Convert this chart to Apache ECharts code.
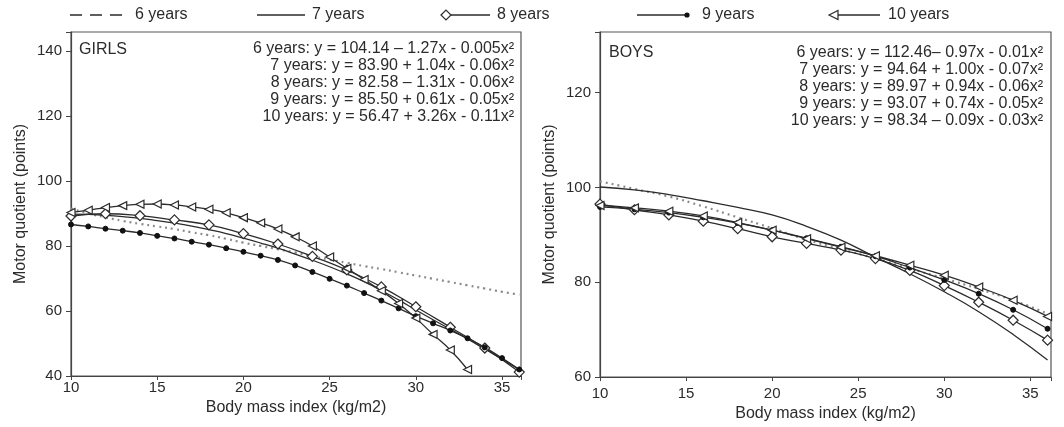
<!DOCTYPE html>
<html>
<head>
<meta charset="utf-8">
<script src="https://cdn.jsdelivr.net/npm/echarts@6/dist/echarts.min.js"></script>
<style>
html,body{margin:0;padding:0;background:#fff;}
#chart{width:1064px;height:427px;}
</style>
</head>
<body>
<div id="chart"></div>
<script>
// body mass index positions
var girlsBmi = [10,11,12,13,14,15,16,17,18,19,20,21,22,23,24,25,26,27,28,29,30,31,32,33,34,35,36];
var girlsBmi10 = [10,11,12,13,14,15,16,17,18,19,20,21,22,23,24,25,26,27,28,29,30,31,32,33];
var stepBmi = [10,12,14,16,18,20,22,24,26,28,30,32,34,36];

// GIRLS, motor quotient
var girls6 = [91.5,90.0,88.8,87.7,86.8,86.0,85.2,84.2,83.3,82.2,81.0,80.0,79.0,78.0,76.8,75.8,74.8,73.8,72.9,71.9,70.9,69.9,68.9,67.9,66.9,65.9,65.0];
var girls7 = [89.8,89.7,89.4,89.0,88.5,87.8,87.0,86.1,85.0,83.8,82.4,80.9,79.3,77.5,75.6,73.6,71.4,69.0,66.3,63.4,60.3,57.3,54.4,51.4,48.3,45.2,42.0];
var girls8 = [89.2,89.9,89.3,88.0,86.5,83.8,80.6,76.8,72.6,67.4,61.3,55.0,48.6,41.2];
var girls9 = [86.6,86.0,85.3,84.7,84.0,83.1,82.3,81.3,80.4,79.3,78.2,77.0,75.7,74.0,72.0,69.9,67.8,65.5,63.2,60.8,58.4,56.2,54.0,51.6,48.8,45.5,42.0];
var girls10 = [90.3,91.0,91.8,92.4,92.8,92.9,92.6,92.0,91.3,90.2,88.7,87.1,85.2,82.8,80.0,76.6,73.1,69.7,66.2,62.3,57.8,52.8,48.0,42.0];

// BOYS
var boys6 = [101.3,99.7,98.1,96.0,93.7,91.4,89.0,87.0,85.0,82.9,80.8,78.6,76.2,73.4];
var boys7 = [100.1,99.5,98.5,97.2,95.8,94.2,91.8,88.9,85.3,81.8,78.0,73.8,69.0,63.6];
var boys8 = [96.5,95.3,94.2,92.9,91.3,89.6,88.2,86.8,85.0,82.5,79.3,75.8,72.0,67.8];
var boys9 = [95.9,95.4,94.7,93.7,92.5,91.0,89.3,87.5,85.5,83.1,80.5,77.6,74.2,70.2];
var boys10 = [96.2,95.7,95.0,94.0,92.6,91.0,89.2,87.4,85.6,83.6,81.5,79.0,76.2,72.8];

var legendNames = ['6 years','7 years','8 years','9 years','10 years'];
var girlsFormulas = [
    '6 years: y = 104.14 \u2013 1.27x - 0.005x\u00b2',
    '7 years: y = 83.90 + 1.04x - 0.06x\u00b2',
    '8 years: y = 82.58 \u2013 1.31x - 0.06x\u00b2',
    '9 years: y = 85.50 + 0.61x - 0.05x\u00b2',
    '10 years: y = 56.47 + 3.26x - 0.11x\u00b2'
];
var boysFormulas = [
    '6 years: y = 112.46\u2013 0.97x - 0.01x\u00b2',
    '7 years: y = 94.64 + 1.00x - 0.07x\u00b2',
    '8 years: y = 89.97 + 0.94x - 0.06x\u00b2',
    '9 years: y = 93.07 + 0.74x - 0.05x\u00b2',
    '10 years: y = 98.34 \u2013 0.09x - 0.03x\u00b2'
];

var FONT = '"Liberation Sans", Arial, sans-serif';
var INK = '#2b2b2b';

function pairs(xs, ys) {
    return ys.map(function (v, i) { return [xs[i], v]; });
}

// one line per age group
function line(name, xs, ys, idx) {
    var s = {
        name: name,
        type: 'line',
        xAxisIndex: idx,
        yAxisIndex: idx,
        data: pairs(xs, ys),
        smooth: true,
        symbol: 'none',
        lineStyle: {color: INK, width: 1.3},
        itemStyle: {color: INK},
        z: 3
    };
    if (name === '6 years') {
        s.lineStyle = {color: '#8a8a8a', width: 2.2, type: [2, 4]};
        s.z = 2;
    } else if (name === '8 years') {
        s.symbol = 'diamond';
        s.symbolSize = 10;
        s.itemStyle = {color: '#fff', borderColor: INK, borderWidth: 1.2};
    } else if (name === '9 years') {
        s.symbol = 'circle';
        s.symbolSize = 5;
        s.itemStyle = {color: '#111', borderColor: '#111'};
    } else if (name === '10 years') {
        s.symbol = 'triangle';
        s.symbolRotate = 90;
        s.symbolSize = 8;
        s.itemStyle = {color: '#fff', borderColor: INK, borderWidth: 1.2};
    }
    s.showSymbol = s.symbol !== 'none';
    return s;
}

function every(step) {
    return function (v) { return Math.abs(v % step) < 1e-6 ? String(v) : ''; };
}

function xAxis(idx, max, labelMargin, nameGap) {
    return {
        type: 'value', gridIndex: idx, min: 10, max: max, interval: 5,
        name: 'Body mass index (kg/m2)', nameLocation: 'middle', nameGap: nameGap,
        nameTextStyle: {color: INK, fontSize: 16, fontFamily: FONT},
        axisLine: {lineStyle: {color: '#444', width: 1.2}},
        axisTick: {show: true, length: 4, lineStyle: {color: '#444'}},
        axisLabel: {color: INK, fontSize: 15, fontFamily: FONT, margin: labelMargin, formatter: every(5)},
        splitLine: {show: false}
    };
}

function yAxis(idx, min, max) {
    return {
        type: 'value', gridIndex: idx, min: min, max: max, interval: 20,
        name: 'Motor quotient (points)', nameLocation: 'middle', nameGap: 42, nameRotate: 90,
        nameTextStyle: {color: INK, fontSize: 16, fontFamily: FONT},
        axisLine: {lineStyle: {color: '#444', width: 1.2}},
        axisTick: {show: true, length: 5, lineStyle: {color: '#444'}},
        axisLabel: {color: INK, fontSize: 15, fontFamily: FONT, margin: 9, formatter: every(20)},
        splitLine: {show: false}
    };
}

function text(str, x, y, align) {
    return {
        type: 'text', silent: true,
        style: {text: str, x: x, y: y, align: align || 'left', verticalAlign: 'middle',
            fontSize: 16, fontFamily: FONT, fill: INK}
    };
}

var graphics = [];
// legend strip on top
var LY = 15;
graphics.push({type: 'line', shape: {x1: 70, y1: LY, x2: 122, y2: LY}, style: {stroke: INK, lineWidth: 1.5, lineDash: [12, 8]}});
graphics.push(text(legendNames[0], 135, LY));
graphics.push({type: 'line', shape: {x1: 257, y1: LY, x2: 305, y2: LY}, style: {stroke: INK, lineWidth: 1.3}});
graphics.push(text(legendNames[1], 312, LY));
graphics.push({type: 'line', shape: {x1: 451, y1: LY, x2: 490, y2: LY}, style: {stroke: INK, lineWidth: 1.3}});
graphics.push({type: 'polygon', shape: {points: [[441, LY], [446, LY - 5], [451, LY], [446, LY + 5]]}, style: {fill: '#fff', stroke: INK, lineWidth: 1.2}});
graphics.push(text(legendNames[2], 497, LY));
graphics.push({type: 'line', shape: {x1: 637, y1: LY, x2: 687, y2: LY}, style: {stroke: INK, lineWidth: 1.3}});
graphics.push({type: 'circle', shape: {cx: 687, cy: LY, r: 2.6}, style: {fill: '#111'}});
graphics.push(text(legendNames[3], 702, LY));
graphics.push({type: 'line', shape: {x1: 838, y1: LY, x2: 880, y2: LY}, style: {stroke: INK, lineWidth: 1.3}});
graphics.push({type: 'polygon', shape: {points: [[829, LY], [838, LY - 4.5], [838, LY + 4.5]]}, style: {fill: '#fff', stroke: INK, lineWidth: 1.2}});
graphics.push(text(legendNames[4], 888, LY));

// panel titles and fitted equations
graphics.push(text('GIRLS', 79, 50));
graphics.push(text('BOYS', 609, 53));
girlsFormulas.forEach(function (f, i) { graphics.push(text(f, 514, 49 + i * 17, 'right')); });
boysFormulas.forEach(function (f, i) { graphics.push(text(f, 1043, 53 + i * 17, 'right')); });

var series = [];
series.push(line('6 years', girlsBmi, girls6, 0));
series.push(line('7 years', girlsBmi, girls7, 0));
series.push(line('8 years', stepBmi, girls8, 0));
series.push(line('9 years', girlsBmi, girls9, 0));
series.push(line('10 years', girlsBmi10, girls10, 0));
series.push(line('6 years', stepBmi, boys6, 1));
series.push(line('7 years', stepBmi, boys7, 1));
series.push(line('8 years', stepBmi, boys8, 1));
series.push(line('9 years', stepBmi, boys9, 1));
series.push(line('10 years', stepBmi, boys10, 1));

var myChart = echarts.init(document.getElementById('chart'), null, {renderer: 'canvas'});
myChart.setOption({
    animation: false,
    backgroundColor: '#fff',
    grid: [
        {left: 71, top: 32, width: 450, height: 344, show: true, borderColor: '#555', borderWidth: 1.2, backgroundColor: 'transparent'},
        {left: 600, top: 32, width: 451, height: 347, show: true, borderColor: '#555', borderWidth: 1.2, backgroundColor: 'transparent'}
    ],
    xAxis: [xAxis(0, 36.1, 4, 18), xAxis(1, 36.2, 9, 25)],
    yAxis: [yAxis(0, 40, 145.8), yAxis(1, 60, 132.8)],
    graphic: graphics,
    series: series
});
</script>
</body>
</html>
